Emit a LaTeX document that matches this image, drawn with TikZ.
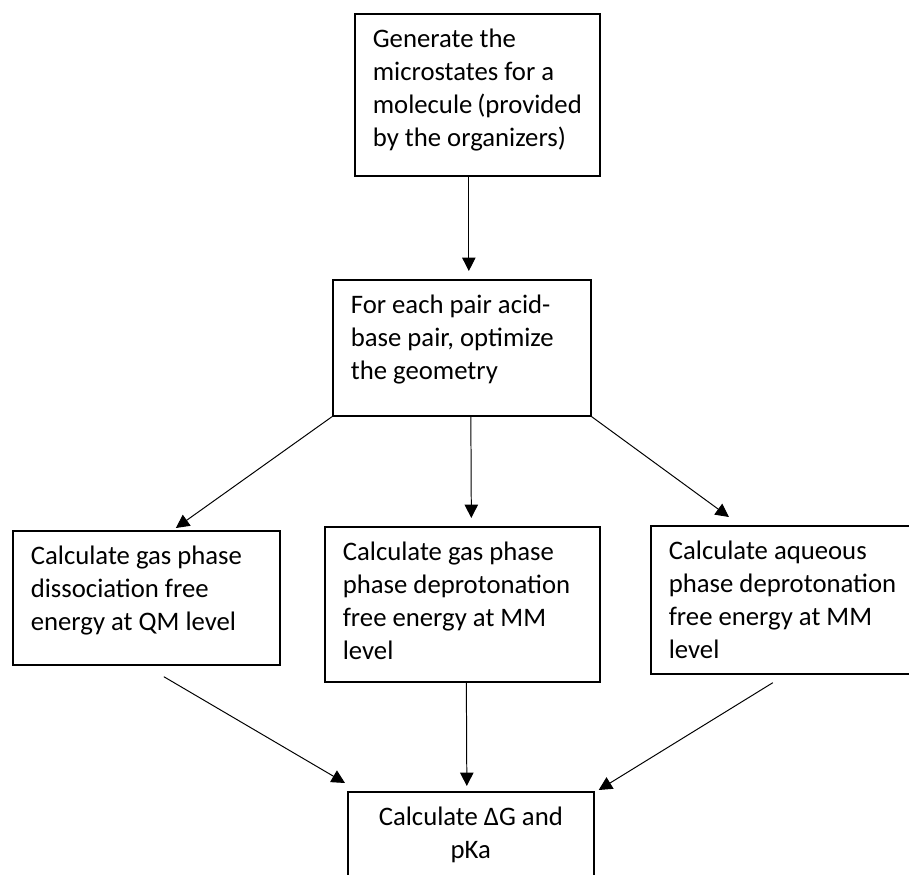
\documentclass[tikz,border=0pt]{standalone}
\usepackage{fontspec}
\setmainfont{Carlito}
\usetikzlibrary{arrows.meta}
\newlength\pxu
\setlength\pxu{0.025cm}
\newcommand{\boxlines}[3]{\parbox[c][#2\pxu][t]{\dimexpr#1\pxu-36\pxu\relax}{\raggedright\rule{0pt}{34\pxu}#3}}
\begin{document}
\begin{tikzpicture}
    [
    x=0.025cm, y=-0.025cm,
    stepbox/.style={draw,line width=1.2pt,rectangle,anchor=north west,inner xsep=18*\pxu,inner ysep=0pt,
      font=\fontsize{19}{23.5}\selectfont},
    flow/.style={line width=0.7pt,-{Triangle[length=9.5pt,width=9.5pt]}}
    ]
    \useasboundingbox (0,0) rectangle (909,875);
    \node (micro) at (354,13) [stepbox] {\boxlines{245}{162}{Generate the\\ microstates~for~a\\ molecule~(provided\\ by~the~organizers)}};
    \node (geom) at (332,279) [stepbox] {\boxlines{258}{136}{For~each~pair~acid-\\ base~pair,~optimize\\ the geometry}};
    \node (qm) at (12,530) [stepbox] {\boxlines{267}{134}{Calculate~gas~phase\\ dissociation~free\\ energy~at~QM~level}};
    \node (gasmm) at (324,526) [stepbox] {\boxlines{275}{155}{Calculate~gas~phase\\ phase~deprotonation\\ free~energy~at~MM\\ level}};
    \node (aq) at (650,525) [stepbox] {\boxlines{264}{148}{Calculate~aqueous\\ phase~deprotonation\\ free~energy~at~MM\\ level}};
    \node (dg) at (347,791) [stepbox] {\boxlines{246}{130}{\centering Calculate~ΔG~and\\ pKa}};
    \draw [flow] ([xshift=-8.5*\pxu]micro.south) to ([xshift=7*\pxu,yshift=8*\pxu]geom.north);
    \draw [flow] (geom.south west) to ([xshift=29.5*\pxu,yshift=2*\pxu]qm.north);
    \draw [flow] ([xshift=9*\pxu]geom.south) to ([xshift=9*\pxu,yshift=8*\pxu]gasmm.north);
    \draw [flow] (geom.south east) to ([xshift=79*\pxu,yshift=8*\pxu]aq.north west);
    \draw [flow] ([xshift=17.5*\pxu,yshift=-11*\pxu]qm.south) to ([xshift=-2*\pxu,yshift=8*\pxu]dg.north west);
    \draw [flow] ([xshift=4*\pxu]gasmm.south) to ([xshift=-4*\pxu,yshift=5*\pxu]dg.north);
    \draw [flow] ([xshift=-10*\pxu,yshift=-8*\pxu]aq.south) to ([xshift=4*\pxu,yshift=1*\pxu]dg.north east);
  \end{tikzpicture}
\end{document}
